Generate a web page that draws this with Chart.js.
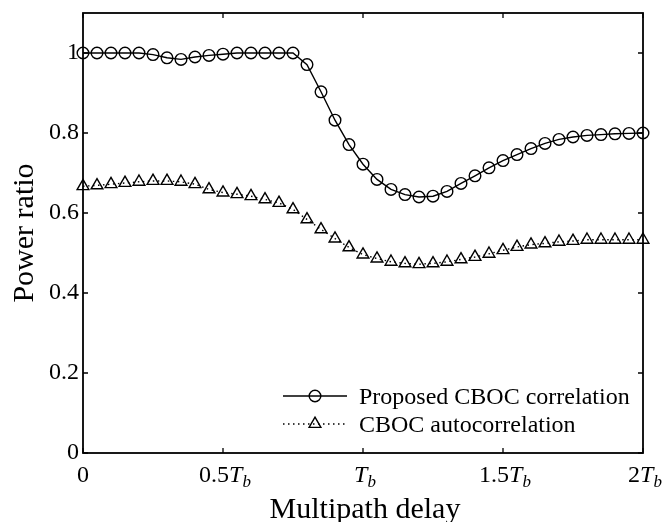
<!DOCTYPE html>
<html>
<head>
<meta charset="utf-8">
<script src="https://cdn.jsdelivr.net/npm/chart.js@4.4.1/dist/chart.umd.min.js"></script>
<style>
  html, body { margin: 0; padding: 0; background: #fff; }
  #wrap { width: 664px; height: 522px; }
</style>
</head>
<body>
<div id="wrap"><canvas id="chart" width="664" height="522"></canvas></div>
<script>
// multipath delay in units of Tb
const delays = [
  0, 0.05, 0.1, 0.15, 0.2, 0.25, 0.3, 0.35, 0.4, 0.45,
  0.5, 0.55, 0.6, 0.65, 0.7, 0.75, 0.8, 0.85, 0.9, 0.95,
  1, 1.05, 1.1, 1.15, 1.2, 1.25, 1.3, 1.35, 1.4, 1.45,
  1.5, 1.55, 1.6, 1.65, 1.7, 1.75, 1.8, 1.85, 1.9, 1.95, 2
];
const proposed = [
  1.0, 1.0, 1.0, 1.0, 1.0, 0.996, 0.988, 0.984, 0.99, 0.994,
  0.997, 1.0, 1.0, 1.0, 1.0, 1.0, 0.971, 0.903, 0.832, 0.771,
  0.722, 0.684, 0.659, 0.646, 0.640, 0.642, 0.654, 0.674, 0.693, 0.713,
  0.731, 0.746, 0.761, 0.774, 0.784, 0.790, 0.794, 0.796, 0.798, 0.799, 0.800
];
const autocorr = [
  0.667, 0.669, 0.672, 0.675, 0.678, 0.680, 0.680, 0.678, 0.672, 0.659,
  0.651, 0.647, 0.642, 0.634, 0.625, 0.609, 0.584, 0.559, 0.536, 0.514,
  0.496, 0.486, 0.478, 0.474, 0.472, 0.474, 0.478, 0.484, 0.490, 0.498,
  0.507, 0.515, 0.521, 0.524, 0.528, 0.530, 0.533, 0.533, 0.533, 0.533, 0.533
];
const seriesNames = ["Proposed CBOC correlation", "CBOC autocorrelation"];
const xTickValues = [0, 0.5, 1, 1.5, 2];
const xTickLabels = ["0", "0.5T_b", "T_b", "1.5T_b", "2T_b"];
const yTickValues = [0, 0.2, 0.4, 0.6, 0.8, 1];
const yTickLabels = ["0", "0.2", "0.4", "0.6", "0.8", "1"];
const xTitle = "Multipath delay";
const yTitle = "Power ratio";

const FONT = "'Liberation Serif', 'Times New Roman', serif";
const LW = 1.4;

function drawCircle(ctx, x, y, r) {
  ctx.beginPath();
  ctx.arc(x, y, r, 0, Math.PI * 2);
  ctx.stroke();
}

function drawTriangle(ctx, x, y, r) {
  ctx.beginPath();
  ctx.moveTo(x, y - r);
  ctx.lineTo(x + r * 0.866, y + r * 0.5);
  ctx.lineTo(x - r * 0.866, y + r * 0.5);
  ctx.closePath();
  ctx.stroke();
}

// tick label like "1.5T_b": plain number, italic T, italic subscript b
function drawTbLabel(ctx, text, cx, baseline) {
  const parts = text.split("T_b");
  const num = parts[0];
  const hasT = parts.length > 1;
  ctx.font = "24px " + FONT;
  const wNum = ctx.measureText(num).width;
  ctx.font = "italic 24px " + FONT;
  const wT = hasT ? ctx.measureText("T").width : 0;
  ctx.font = "italic 17px " + FONT;
  const wB = hasT ? ctx.measureText("b").width : 0;
  let x = cx - (wNum + wT + wB) / 2 + (hasT ? 2 : 0);
  ctx.textAlign = "left";
  ctx.textBaseline = "alphabetic";
  ctx.font = "24px " + FONT;
  ctx.fillText(num, x, baseline);
  x += wNum;
  if (hasT) {
    ctx.font = "italic 24px " + FONT;
    ctx.fillText("T", x, baseline);
    x += wT;
    ctx.font = "italic 17px " + FONT;
    ctx.fillText("b", x, baseline + 5);
  }
}

const framePlugin = {
  id: "frame",
  afterDraw(chart) {
    const { ctx, chartArea: a, scales: { x, y } } = chart;
    ctx.save();
    ctx.strokeStyle = "#000";
    ctx.fillStyle = "#000";

    // box
    ctx.lineWidth = 1.8;
    ctx.strokeRect(a.left, a.top, a.right - a.left, a.bottom - a.top);

    // inward ticks on all four sides
    ctx.lineWidth = 1.3;
    ctx.beginPath();
    xTickValues.forEach((v) => {
      const px = x.getPixelForValue(v);
      ctx.moveTo(px, a.bottom); ctx.lineTo(px, a.bottom - 5);
      ctx.moveTo(px, a.top); ctx.lineTo(px, a.top + 5);
    });
    yTickValues.forEach((v) => {
      const py = y.getPixelForValue(v);
      ctx.moveTo(a.left, py); ctx.lineTo(a.left + 5, py);
      ctx.moveTo(a.right, py); ctx.lineTo(a.right - 5, py);
    });
    ctx.stroke();

    // x tick labels
    xTickValues.forEach((v, i) => {
      drawTbLabel(ctx, xTickLabels[i], x.getPixelForValue(v), a.bottom + 29);
    });

    // axis titles
    ctx.font = "30px " + FONT;
    ctx.textAlign = "center";
    ctx.textBaseline = "alphabetic";
    ctx.fillText(xTitle, (a.left + a.right) / 2 + 2, 518);
    ctx.save();
    ctx.translate(33, (a.top + a.bottom) / 2);
    ctx.rotate(-Math.PI / 2);
    ctx.fillText(yTitle, 0, 0);
    ctx.restore();

    // legend
    const lx0 = 283, lx1 = 347, lmid = 315, ltext = 359;
    const rows = [396, 424];
    ctx.lineWidth = LW;
    ctx.beginPath();
    ctx.moveTo(lx0, rows[0]); ctx.lineTo(lx1, rows[0]);
    ctx.stroke();
    drawCircle(ctx, lmid, rows[0], 5.8);
    ctx.setLineDash([1.5, 3.5]);
    ctx.beginPath();
    ctx.moveTo(lx0, rows[1]); ctx.lineTo(lx1, rows[1]);
    ctx.stroke();
    ctx.setLineDash([]);
    drawTriangle(ctx, lmid, rows[1], 6.8);
    ctx.font = "24px " + FONT;
    ctx.textAlign = "left";
    ctx.textBaseline = "alphabetic";
    ctx.fillText(seriesNames[0], ltext, rows[0] + 8);
    ctx.fillText(seriesNames[1], ltext, rows[1] + 8);
    ctx.restore();
  }
};

new Chart(document.getElementById("chart"), {
  type: "line",
  data: {
    datasets: [
      {
        label: seriesNames[0],
        data: delays.map((d, i) => ({ x: d, y: proposed[i] })),
        borderColor: "#000",
        borderWidth: LW,
        pointStyle: "circle",
        pointRadius: 5.8,
        pointBorderWidth: LW,
        pointBorderColor: "#000",
        pointBackgroundColor: "rgba(0,0,0,0)",
        tension: 0,
        clip: false
      },
      {
        label: seriesNames[1],
        data: delays.map((d, i) => ({ x: d, y: autocorr[i] })),
        borderColor: "#000",
        borderWidth: LW,
        borderDash: [1.5, 3.5],
        pointStyle: "triangle",
        pointRadius: 6.8,
        pointBorderWidth: LW,
        pointBorderColor: "#000",
        pointBackgroundColor: "rgba(0,0,0,0)",
        tension: 0,
        clip: false
      }
    ]
  },
  options: {
    responsive: false,
    animation: false,
    devicePixelRatio: 1,
    layout: { padding: { left: 0, right: 21, top: 13, bottom: 0 } },
    plugins: {
      legend: { display: false },
      tooltip: { enabled: false }
    },
    scales: {
      x: {
        type: "linear",
        min: 0,
        max: 2,
        grid: { display: false },
        border: { display: false },
        ticks: { display: false },
        afterBuildTicks: (s) => { s.ticks = xTickValues.map((v) => ({ value: v })); },
        afterFit: (s) => {
          s.height = 69;
          s.paddingLeft = 0; s.paddingRight = 0; s.paddingTop = 0; s.paddingBottom = 0;
        }
      },
      y: {
        type: "linear",
        min: 0,
        max: 1.1,
        grid: { display: false, drawTicks: false },
        border: { display: false },
        ticks: {
          color: "#000",
          padding: 4,
          font: { family: FONT, size: 24 },
          callback: (v) => {
            const i = yTickValues.findIndex((t) => Math.abs(t - v) < 1e-9);
            return i >= 0 ? yTickLabels[i] : "";
          }
        },
        afterBuildTicks: (s) => { s.ticks = yTickValues.map((v) => ({ value: v })); },
        afterFit: (s) => {
          s.width = 83;
          s.paddingLeft = 0; s.paddingRight = 0; s.paddingTop = 0; s.paddingBottom = 0;
        }
      }
    }
  },
  plugins: [framePlugin]
});
</script>
</body>
</html>
